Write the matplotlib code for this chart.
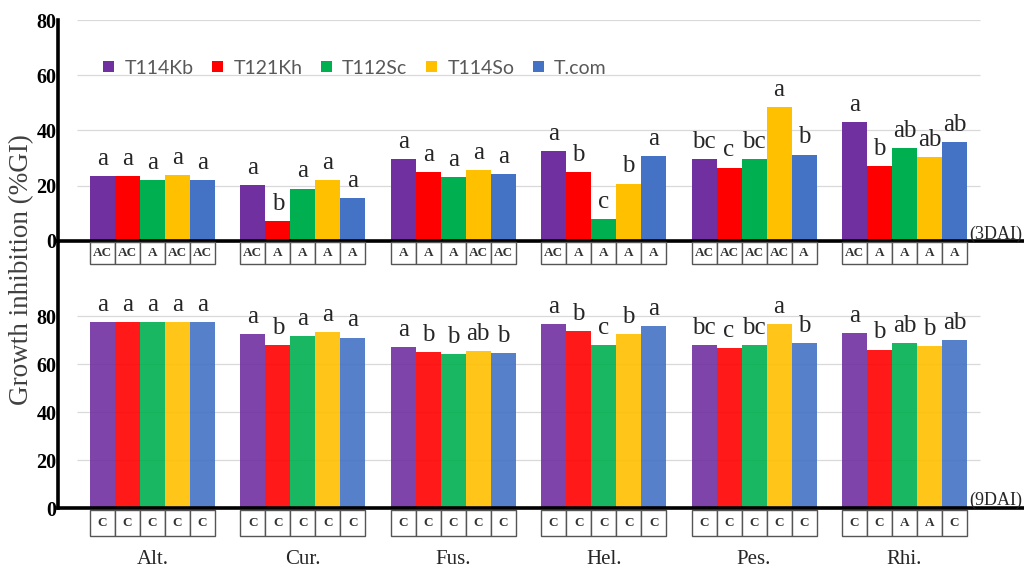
import numpy as np
import matplotlib
matplotlib.use("Agg")
import matplotlib.pyplot as plt
from matplotlib.patches import Patch, Rectangle
from matplotlib.transforms import blended_transform_factory

# ---- data -----------------------------------------------------------------
categories = ["Alt.", "Cur.", "Fus.", "Hel.", "Pes.", "Rhi."]
strains = ["T114Kb", "T121Kh", "T112Sc", "T114So", "T.com"]
colors = ["#7030A0", "#FF0000", "#00B050", "#FFC000", "#4472C4"]

# growth inhibition (%GI) at 3 days after inoculation
gi3_t114kb = [23.6, 20.2, 29.7, 32.5, 29.8, 42.9]
gi3_t121kh = [23.6, 7.2, 25.0, 25.0, 26.6, 27.2]
gi3_t112sc = [22.2, 19.0, 23.2, 8.1, 29.8, 33.5]
gi3_t114so = [23.8, 22.2, 25.7, 20.8, 48.5, 30.3]
gi3_tcom = [22.2, 15.6, 24.3, 30.7, 31.3, 35.8]

# growth inhibition (%GI) at 9 days after inoculation
gi9_t114kb = [77.6, 72.4, 67.2, 76.5, 67.9, 72.9]
gi9_t121kh = [77.6, 67.9, 65.0, 73.9, 66.5, 66.0]
gi9_t112sc = [77.4, 71.8, 64.2, 67.9, 67.9, 68.8]
gi9_t114so = [77.6, 73.2, 65.4, 72.4, 76.5, 67.4]
gi9_tcom = [77.4, 71.0, 64.6, 75.7, 68.8, 69.9]

# significance letters (per strain, per pathogen)
sig3_t114kb = ["a", "a", "a", "a", "bc", "a"]
sig3_t121kh = ["a", "b", "a", "b", "c", "b"]
sig3_t112sc = ["a", "a", "a", "c", "bc", "ab"]
sig3_t114so = ["a", "a", "a", "b", "a", "ab"]
sig3_tcom = ["a", "a", "a", "a", "b", "ab"]

sig9_t114kb = ["a", "a", "a", "a", "bc", "a"]
sig9_t121kh = ["a", "b", "b", "b", "c", "b"]
sig9_t112sc = ["a", "a", "b", "c", "bc", "ab"]
sig9_t114so = ["a", "a", "ab", "b", "a", "b"]
sig9_tcom = ["a", "a", "b", "a", "b", "ab"]

# interaction codes shown under each bar
code3_t114kb = ["AC", "AC", "A", "AC", "AC", "AC"]
code3_t121kh = ["AC", "A", "A", "A", "AC", "A"]
code3_t112sc = ["A", "A", "A", "A", "AC", "A"]
code3_t114so = ["AC", "A", "AC", "A", "AC", "A"]
code3_tcom = ["AC", "A", "AC", "A", "A", "A"]

code9_t114kb = ["C", "C", "C", "C", "C", "C"]
code9_t121kh = ["C", "C", "C", "C", "C", "C"]
code9_t112sc = ["C", "C", "C", "C", "C", "A"]
code9_t114so = ["C", "C", "C", "C", "C", "A"]
code9_tcom = ["C", "C", "C", "C", "C", "C"]

yticks = [0, 20, 40, 60, 80]

gi3 = [gi3_t114kb, gi3_t121kh, gi3_t112sc, gi3_t114so, gi3_tcom]
gi9 = [gi9_t114kb, gi9_t121kh, gi9_t112sc, gi9_t114so, gi9_tcom]
sig3 = [sig3_t114kb, sig3_t121kh, sig3_t112sc, sig3_t114so, sig3_tcom]
sig9 = [sig9_t114kb, sig9_t121kh, sig9_t112sc, sig9_t114so, sig9_tcom]
code3 = [code3_t114kb, code3_t121kh, code3_t112sc, code3_t114so, code3_tcom]
code9 = [code9_t114kb, code9_t121kh, code9_t112sc, code9_t114so, code9_tcom]

# ---- figure -----------------------------------------------------------------
W, H = 1024, 568
fig = plt.figure(figsize=(W / 100, H / 100), dpi=100)
fig.patch.set_facecolor("white")

SERIF = "Liberation Serif"
left = 58 / W
y_mid = 241  # pixel row of the shared baseline between the panels
ax_top = fig.add_axes([left, 1 - y_mid / H, 1 - left, (y_mid - 20) / H])
ax_bot = fig.add_axes([left, 1 - 508 / H, 1 - left, (508 - y_mid) / H])

x = np.arange(len(categories))
bw = 0.1663
offsets = (np.arange(len(strains)) - 2) * bw
xlim = (-0.628, 5.795)


def style_axes(ax, ylim):
    ax.set_facecolor("none")
    ax.set_xlim(*xlim)
    ax.set_ylim(*ylim)
    for s in ("top", "right"):
        ax.spines[s].set_visible(False)
    ax.spines["left"].set_linewidth(2.6)
    ax.spines["bottom"].set_linewidth(2.6)
    ax.set_xticks([])
    ax.set_yticks(yticks)
    ax.tick_params(axis="y", length=0, pad=1)
    for lab in ax.get_yticklabels():
        lab.set_fontfamily(SERIF)
        lab.set_fontweight("bold")
        lab.set_fontsize(14.5)
    ax.hlines(yticks[1:], -0.5, 5.5, color="#d9d9d9", lw=0.9, zorder=0)


style_axes(ax_top, (0, 80))
style_axes(ax_bot, (0, (508 - y_mid) / 2.4))
ax_bot.spines["top"].set_visible(False)


def draw_panel(ax, values, letters, alpha):
    for i, (vals, sig, col) in enumerate(zip(values, letters, colors)):
        xs = x + offsets[i]
        ax.bar(xs, vals, width=bw, color=col, alpha=alpha, linewidth=0, zorder=2)
        for xi, v, s in zip(xs, vals, sig):
            ax.annotate(s, (xi, v), xytext=(0, 8), textcoords="offset points",
                        ha="center", va="baseline", fontsize=18,
                        family=SERIF, color="#262626")


draw_panel(ax_top, gi3, sig3, 1.0)
draw_panel(ax_bot, gi9, sig9, 0.9)

# boxed interaction codes under each bar
trans = blended_transform_factory(ax_bot.transData, fig.transFigure)


def draw_codes(codes, top_px, bottom_px):
    y0 = 1 - bottom_px / H
    h = (bottom_px - top_px) / H
    for i, row in enumerate(codes):
        xs = x + offsets[i]
        for xi, c in zip(xs, row):
            ax_bot.add_patch(Rectangle((xi - bw / 2, y0), bw, h, transform=trans,
                                       facecolor="white", edgecolor="#555555",
                                       lw=1.0, clip_on=False, zorder=1))
            ax_bot.text(xi, y0 + h / 2, c, transform=trans, ha="center",
                        va="center", fontsize=9.5, fontweight="bold",
                        family=SERIF, color="#333333", clip_on=False)


draw_codes(code3, 242.5, 264)
draw_codes(code9, 510, 536)

# pathogen names
for xi, name in zip(x, categories):
    ax_bot.text(xi, 3.5 / H, name, transform=trans, ha="center", va="baseline",
                fontsize=15, family=SERIF, color="#262626", clip_on=False)

# time labels at the right end of each baseline
fig.text(1022 / W, 1 - 239 / H, "(3DAI)", ha="right", va="baseline",
         fontsize=13, family=SERIF, color="#262626")
fig.text(1022 / W, 1 - 505 / H, "(9DAI)", ha="right", va="baseline",
         fontsize=13, family=SERIF, color="#262626")

# y-axis title
fig.text(22 / W, 1 - 270 / H, "Growth inhibition (%GI)", rotation=90,
         ha="center", va="center", fontsize=19.5, family=SERIF, color="#404040")

# legend
handles = [Patch(facecolor=c, edgecolor="none") for c in colors]
ax_top.legend(handles, strains, ncol=5, loc="center left",
              bbox_to_anchor=((103 - 58) / (W - 58), (y_mid - 68) / 221),
              frameon=False, borderaxespad=0, borderpad=0,
              handlelength=0.55, handleheight=0.55, handletextpad=0.55,
              columnspacing=0.95, prop={"family": "Lato", "size": 14},
              labelcolor="#595959")

fig.savefig("out.png", dpi=100)
